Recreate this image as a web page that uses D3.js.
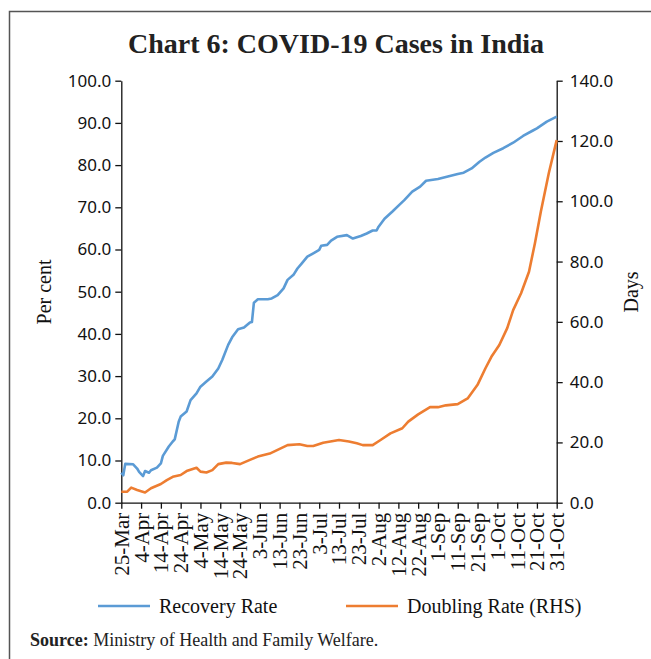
<!DOCTYPE html>
<html>
<head>
<meta charset="utf-8">
<script src="https://cdn.jsdelivr.net/npm/d3@7"></script>
<style>
  body { margin: 0; background: #fff; }
  svg { display: block; }
</style>
</head>
<body>
<div class="page-svg"></div>
<script>
// days counted from 25-Mar
const recoveryDays = [0,1,2,6,8,9,11,12,14,15,18,20,21,24,26,27,29,30,33,35,38,40,43,46,49,51,54,56,59,62,65,66,67,69,74,76,79,82,84,87,89,91,94,97,100,101,104,106,109,114,117,121,124,127,129,130,133,137,141,143,147,151,154,160,165,170,173,177,181,184,188,193,198,203,208,210,215,220]
const recoveryRate = [7.1,6.5,9.2,9.1,8.1,7.3,6.3,7.5,7.1,7.7,8.3,9.3,11.1,13.3,14.5,15.0,19.2,20.4,21.6,24.3,25.9,27.5,28.7,29.9,31.8,33.8,37.4,39.2,41.1,41.5,42.7,42.8,47.4,48.2,48.2,48.4,49.2,50.8,52.8,54.0,55.5,56.6,58.3,59.1,59.9,60.9,61.1,62.1,63.0,63.4,62.6,63.2,63.8,64.5,64.5,65.4,67.3,69.0,70.8,71.7,73.7,74.9,76.3,76.7,77.3,77.9,78.2,79.2,80.8,81.8,82.9,84.0,85.3,86.9,88.2,88.7,90.3,91.5]

const doublingDays = [0,3,5,8,12,15,20,23,26,30,33,38,40,43,46,49,53,56,60,65,69,75,84,90,94,97,102,110,115,119,122,127,131,136,142,145,150,156,160,164,170,175,180,184,187,191,195,198,202,206,209,212,216,218,220]
const doublingRate = [3.65,3.65,5.0,4.2,3.4,4.8,6.2,7.5,8.6,9.2,10.5,11.6,10.3,10.0,10.8,12.8,13.3,13.2,12.8,14.2,15.3,16.3,19.1,19.4,18.8,18.8,19.9,20.8,20.3,19.7,19.1,19.1,20.8,23.0,24.7,26.9,29.3,31.7,31.7,32.3,32.7,34.6,39.1,44.6,48.4,52.3,57.9,63.9,69.5,76.6,86.1,96.6,109.3,114.8,120.3]

const tickDays = [0,10,20,30,40,50,60,70,80,90,100,110,120,130,140,150,160,170,180,190,200,210,220]
const tickLabels = ['25-Mar','4-Apr','14-Apr','24-Apr','4-May','14-May','24-May','3-Jun','13-Jun','23-Jun','3-Jul','13-Jul','23-Jul','2-Aug','12-Aug','22-Aug','1-Sep','11-Sep','21-Sep','1-Oct','11-Oct','21-Oct','31-Oct']
const leftTicks = [0,10,20,30,40,50,60,70,80,90,100]
const rightTicks = [0,20,40,60,80,100,120,140]

const blue = '#5b9bd5',
      orange = '#ed7d31',
      serif = "'Liberation Serif', 'Times New Roman', serif",
      sans = "'Noto Sans', 'Open Sans', sans-serif"

var W = 651, H = 659
var margin = {top: 80.7, left: 121.3, right: 651 - 556.7, bottom: 659 - 502.7}

var svg = d3.select('.page-svg').append('svg')
  .attr('width', W)
  .attr('height', H)

// outer frame (right and bottom edges fall outside the picture)
svg.append('rect')
  .attr('x', 9.5).attr('y', 11.5)
  .attr('width', 800).attr('height', 800)
  .attr('fill', 'none')
  .attr('stroke', '#555')
  .attr('stroke-width', 1.5)

svg.append('text')
  .attr('x', 336).attr('y', 53)
  .attr('text-anchor', 'middle')
  .attr('font-family', serif)
  .attr('font-weight', 'bold')
  .attr('font-size', 28)
  .attr('fill', '#222')
  .text('Chart 6: COVID-19 Cases in India')

var x = d3.scaleLinear()
  .domain([0, 220])
  .range([margin.left, W - margin.right])

var yLeft = d3.scaleLinear()
  .domain([0, 100])
  .range([H - margin.bottom, margin.top])

var yRight = d3.scaleLinear()
  .domain([0, 140])
  .range([H - margin.bottom, margin.top])

// axes
var xAxis = d3.axisBottom(x)
  .tickValues(tickDays)
  .tickFormat((d, i) => tickLabels[i])
  .tickSize(6)
  .tickSizeOuter(0)

var leftAxis = d3.axisLeft(yLeft)
  .tickValues(leftTicks)
  .tickFormat(d3.format('.1f'))
  .tickSize(6)
  .tickSizeOuter(0)

var rightAxis = d3.axisRight(yRight)
  .tickValues(rightTicks)
  .tickFormat(d3.format('.1f'))
  .tickSize(6)
  .tickSizeOuter(0)

var gx = svg.append('g')
  .attr('transform', `translate(0,${H - margin.bottom})`)
  .call(xAxis)
gx.selectAll('text')
  .attr('font-family', serif)
  .attr('font-size', 21)
  .attr('fill', '#111')
  .attr('text-anchor', 'end')
  .attr('transform', 'rotate(-90)')
  .attr('x', -10)
  .attr('y', 0)
  .attr('dy', '0.33em')

var gl = svg.append('g')
  .attr('transform', `translate(${margin.left},0)`)
  .call(leftAxis)
gl.selectAll('text')
  .attr('font-family', sans)
  .attr('font-size', 17)
  .attr('fill', '#111')
  .attr('x', -10)

var gr = svg.append('g')
  .attr('transform', `translate(${W - margin.right},0)`)
  .call(rightAxis)
gr.selectAll('text')
  .attr('font-family', sans)
  .attr('font-size', 17)
  .attr('fill', '#111')
  .attr('x', 13)

svg.selectAll('.domain, .tick line')
  .attr('stroke', '#111')
  .attr('stroke-width', 1.3)

// axis titles
svg.append('text')
  .attr('transform', 'translate(51,292) rotate(-90)')
  .attr('text-anchor', 'middle')
  .attr('font-family', serif)
  .attr('font-size', 20)
  .attr('fill', '#111')
  .text('Per cent')

svg.append('text')
  .attr('transform', 'translate(638,292) rotate(-90)')
  .attr('text-anchor', 'middle')
  .attr('font-family', serif)
  .attr('font-size', 20)
  .attr('fill', '#111')
  .text('Days')

// lines
var recLine = d3.line()
  .x((d, i) => x(recoveryDays[i]))
  .y(d => yLeft(d))

var dblLine = d3.line()
  .x((d, i) => x(doublingDays[i]))
  .y(d => yRight(d))

svg.append('path')
  .datum(doublingRate)
  .attr('d', dblLine)
  .attr('fill', 'none')
  .attr('stroke', orange)
  .attr('stroke-width', 2.6)
  .attr('stroke-linejoin', 'round')

svg.append('path')
  .datum(recoveryRate)
  .attr('d', recLine)
  .attr('fill', 'none')
  .attr('stroke', blue)
  .attr('stroke-width', 2.6)
  .attr('stroke-linejoin', 'round')

// legend
let legendItems = [
  {label: 'Recovery Rate', color: blue, x: 98},
  {label: 'Doubling Rate (RHS)', color: orange, x: 346}
]
var legend = svg.append('g')
  .selectAll('g')
  .data(legendItems)
  .join('g')
    .attr('transform', d => `translate(${d.x},606)`)
legend.append('line')
  .attr('x1', 0).attr('x2', 52)
  .attr('y1', 0).attr('y2', 0)
  .attr('stroke', d => d.color)
  .attr('stroke-width', 2.6)
legend.append('text')
  .attr('x', 61)
  .attr('y', 7)
  .attr('font-family', serif)
  .attr('font-size', 20)
  .attr('fill', '#111')
  .text(d => d.label)

// source note
var src = svg.append('text')
  .attr('x', 30)
  .attr('y', 646)
  .attr('font-family', serif)
  .attr('font-size', 18)
  .attr('fill', '#222')
src.append('tspan').attr('font-weight', 'bold').text('Source:')
src.append('tspan').text(' Ministry of Health and Family Welfare.')
</script>
</body>
</html>
